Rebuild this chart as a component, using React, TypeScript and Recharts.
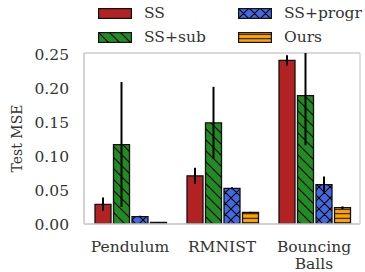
import React from 'react';
import { BarChart, Bar, XAxis, YAxis, ErrorBar, CartesianGrid } from 'recharts';

const categories = ['Pendulum', 'RMNIST', 'Bouncing\nBalls'];

const ssMean = [0.029, 0.071, 0.241];
const ssStd = [0.01, 0.012, 0.0075];
const subMean = [0.117, 0.149, 0.189];
const subStd = [0.092, 0.053, 0.073];
const progrMean = [0.011, 0.0525, 0.058];
const progrStd = [0.001, 0.0015, 0.0118];
const oursMean = [0.0025, 0.017, 0.024];
const oursStd = [0.0005, 0.001, 0.002];

const yTicks = [0, 0.05, 0.1, 0.15, 0.2, 0.25];
const Y_MAX = 0.2518;

// error bars are cut at the top of the axes, like the original figure
const err = (m: number, s: number) => [s, Math.min(s, Y_MAX - m)];

const data = categories.map((name, i) => ({
  name,
  ss: ssMean[i],
  ssErr: err(ssMean[i], ssStd[i]),
  sub: subMean[i],
  subErr: err(subMean[i], subStd[i]),
  progr: progrMean[i],
  progrErr: err(progrMean[i], progrStd[i]),
  ours: oursMean[i],
  oursErr: err(oursMean[i], oursStd[i]),
}));

const FONT = "'DejaVu Serif', serif";
const TEXT = '#333333';
const EDGE = '#111111';
const FRAME = '#cccccc';

const legendItems = [
  { label: 'SS', fill: '#b22222', left: 98, top: 8 },
  { label: 'SS+sub', fill: 'url(#hatchSub)', left: 98, top: 32 },
  { label: 'SS+progr', fill: 'url(#hatchProgr)', left: 238, top: 8 },
  { label: 'Ours', fill: 'url(#hatchOurs)', left: 238, top: 32 },
];

function Patterns() {
  return (
    <svg width={0} height={0} style={{ position: 'absolute' }}>
      <defs>
        <pattern id="hatchSub" width={11} height={11} patternUnits="userSpaceOnUse">
          <rect width={11} height={11} fill="#228b22" />
          <path d="M0,0 L11,11 M-2,9 L2,13 M9,-2 L13,2" stroke="#000" strokeWidth={1.1} />
        </pattern>
        <pattern id="hatchProgr" width={11} height={11} patternUnits="userSpaceOnUse">
          <rect width={11} height={11} fill="#4169e1" />
          <path d="M0,0 L11,11 M-2,9 L2,13 M9,-2 L13,2 M11,0 L0,11 M-2,2 L2,-2 M9,13 L13,9" stroke="#000" strokeWidth={1.1} />
        </pattern>
        <pattern id="hatchOurs" width={5} height={4.5} patternUnits="userSpaceOnUse">
          <rect width={5} height={4.5} fill="#ffa500" />
          <path d="M0,2.25 L5,2.25" stroke="#000" strokeWidth={1} />
        </pattern>
      </defs>
    </svg>
  );
}

function CategoryTick({ x, y, payload }: any) {
  const lines = String(payload.value).split('\n');
  return (
    <text x={x} y={y} textAnchor="middle" fill={TEXT} fontSize={15.5} fontFamily={FONT}>
      {lines.map((l, i) => (
        <tspan key={i} x={x} dy={i === 0 ? 28 : 17}>
          {l}
        </tspan>
      ))}
    </text>
  );
}

export default function App() {
  return (
    <div style={{ position: 'absolute', left: 0, top: 0, width: 365, height: 272, background: '#fff' }}>
      <Patterns />
      <BarChart
        width={365}
        height={272}
        data={data}
        margin={{ top: 53, right: 5, bottom: 0, left: 0 }}
        barCategoryGap={11}
        barGap={2.5}
      >
        <CartesianGrid
          stroke={FRAME}
          strokeWidth={1.3}
          horizontalCoordinatesGenerator={({ offset }: any) => [offset.top, offset.top + offset.height]}
          verticalCoordinatesGenerator={({ offset }: any) => [offset.left, offset.left + offset.width]}
        />
        <XAxis
          dataKey="name"
          height={48}
          tick={<CategoryTick />}
          tickLine={false}
          tickSize={0}
          tickMargin={0}
          axisLine={{ stroke: FRAME, strokeWidth: 1.3 }}
          interval={0}
        />
        <YAxis
          width={84}
          domain={[0, Y_MAX]}
          ticks={yTicks}
          allowDataOverflow
          tickFormatter={(v: number) => v.toFixed(2)}
          tick={{ fill: TEXT, fontSize: 15.5, fontFamily: FONT }}
          tickLine={false}
          tickSize={0}
          tickMargin={15}
          axisLine={{ stroke: FRAME, strokeWidth: 1.3 }}
          label={{
            value: 'Test MSE',
            angle: -90,
            position: 'insideLeft',
            offset: 17,
            style: { fill: TEXT, fontSize: 14, fontFamily: FONT, textAnchor: 'middle' },
          }}
        />
        <Bar dataKey="ss" fill="#b22222" stroke={EDGE} strokeWidth={1.3} isAnimationActive={false}>
          <ErrorBar dataKey="ssErr" width={0} stroke="#000" strokeWidth={2} />
        </Bar>
        <Bar dataKey="sub" fill="url(#hatchSub)" stroke={EDGE} strokeWidth={1.3} isAnimationActive={false}>
          <ErrorBar dataKey="subErr" width={0} stroke="#000" strokeWidth={2} />
        </Bar>
        <Bar dataKey="progr" fill="url(#hatchProgr)" stroke={EDGE} strokeWidth={1.3} isAnimationActive={false}>
          <ErrorBar dataKey="progrErr" width={0} stroke="#000" strokeWidth={2} />
        </Bar>
        <Bar dataKey="ours" fill="url(#hatchOurs)" stroke={EDGE} strokeWidth={1.3} isAnimationActive={false}>
          <ErrorBar dataKey="oursErr" width={0} stroke="#000" strokeWidth={2} />
        </Bar>
      </BarChart>
      {legendItems.map((it) => (
        <div
          key={it.label}
          style={{ position: 'absolute', left: it.left, top: it.top, height: 11, display: 'flex', alignItems: 'center' }}
        >
          <svg width={34} height={11} style={{ display: 'block' }}>
            <rect x={0.6} y={0.6} width={32.8} height={9.8} fill={it.fill} stroke={EDGE} strokeWidth={1.2} />
          </svg>
          <span
            style={{
              marginLeft: 12,
              fontFamily: FONT,
              fontSize: 15.5,
              color: TEXT,
              lineHeight: '11px',
              whiteSpace: 'nowrap',
            }}
          >
            {it.label}
          </span>
        </div>
      ))}
    </div>
  );
}
